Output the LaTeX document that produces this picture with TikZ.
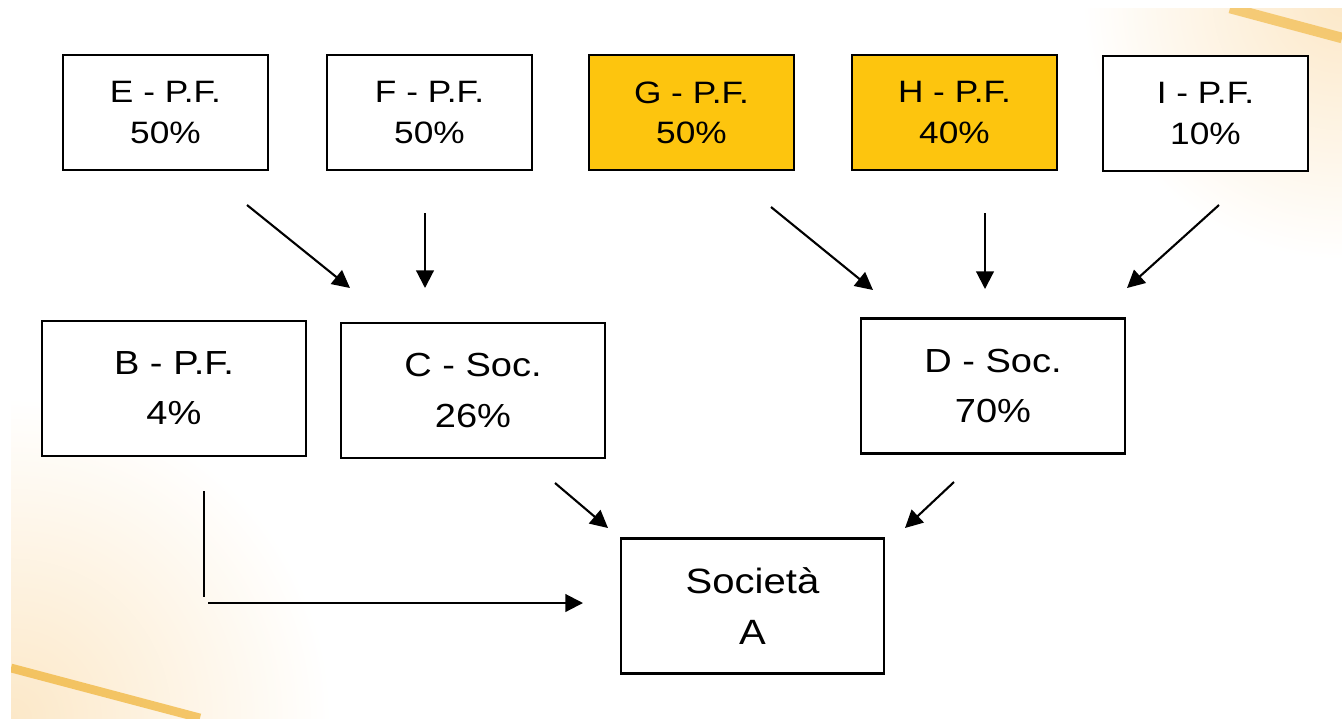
\documentclass[tikz,border=0pt]{standalone}
\usepackage{fontspec}
\setmainfont{Liberation Sans}[FakeStretch=1.14]
\usetikzlibrary{arrows.meta,calc}

\definecolor{gold}{RGB}{253,197,14}
\definecolor{streak}{RGB}{240,178,50}
\definecolor{cream}{RGB}{252,232,200}

\tikzset{
  box/.style={draw=black, line width=1.2pt, fill=white, inner sep=0pt, align=center,
    minimum width=4.1cm, minimum height=2.3cm,
    font=\fontsize{17.6}{22.8}\selectfont},
  bigbox/.style={box, minimum width=5.28cm, minimum height=2.7cm,
    font=\fontsize{19}{28.5}\selectfont},
  owned/.style={fill=gold},
  arr/.style={-{Triangle[length=10pt,width=10pt]}, line width=1.2pt}
}

\begin{document}
\begin{tikzpicture}[x=0.02cm,y=-0.02cm]

        \useasboundingbox (0,0) rectangle (1342,718);
        \fill[white] (0,0) rectangle (1342,718);

        % faded corners
        \begin{scope}
          \clip (11,8) rectangle (1342,718);
          \shade[inner color=cream, outer color=white] (11,718) circle (320);
          \shade[inner color=cream, outer color=white] (1342,0) circle (260);
          \draw[streak, line width=5pt, opacity=0.7] (11,668) -- (200,718);
          \draw[streak, line width=6pt, opacity=0.6] (1230,8) -- (1342,38);
        \end{scope}

        % top row
        \node[box] (E) at (165.5,112.5) {E - P.F.\\50\%};
        \node[box] (F) at (429.5,112.5) {F - P.F.\\50\%};
        \node[box, owned] (G) at (691.5,112.5) {G - P.F.\\50\%};
        \node[box, owned] (H) at (954.5,112.5) {H - P.F.\\40\%};
        \node[box] (I) at (1205.5,113.5) {I - P.F.\\10\%};

        % middle row
        \node[bigbox] (B) at (174,388.5) {B - P.F.\\4\%};
        \node[bigbox] (C) at (473,390.5) {C - Soc.\\26\%};
        \node[bigbox] (D) at (993,386) {D - Soc.\\70\%};

        % target
        \node[bigbox, minimum width=5.26cm, font=\fontsize{20}{29}\selectfont] (A) at (752.5,606) {Società\\A};

        % arrow ends
        \coordinate (e1) at (247,205);  \coordinate (c1) at (350,288);
        \coordinate (f1) at (425,213);  \coordinate (c2) at (425,288);
        \coordinate (g1) at (771,207);  \coordinate (d1) at (873,290);
        \coordinate (h1) at (985,213);  \coordinate (d2) at (985,289);
        \coordinate (i1) at (1219,205); \coordinate (d3) at (1127,288);
        \coordinate (c3) at (555,483);  \coordinate (a1) at (608,528);
        \coordinate (d4) at (954,482);  \coordinate (a2) at (905,528);
        \coordinate (b1) at (204,491);  \coordinate (b2) at (204,597);
        \coordinate (b3) at (208,603);  \coordinate (a3) at (583,603);

        \draw[arr] (e1) -- (c1);
        \draw[arr] (f1) -- (c2);
        \draw[arr] (g1) -- (d1);
        \draw[arr] (h1) -- (d2);
        \draw[arr] (i1) -- (d3);
        \draw[arr] (c3) -- (a1);
        \draw[arr] (d4) -- (a2);
        \draw[line width=1.2pt] (b1) -- (b2);
        \draw[arr] (b3) -- (a3);

\end{tikzpicture}
\end{document}
